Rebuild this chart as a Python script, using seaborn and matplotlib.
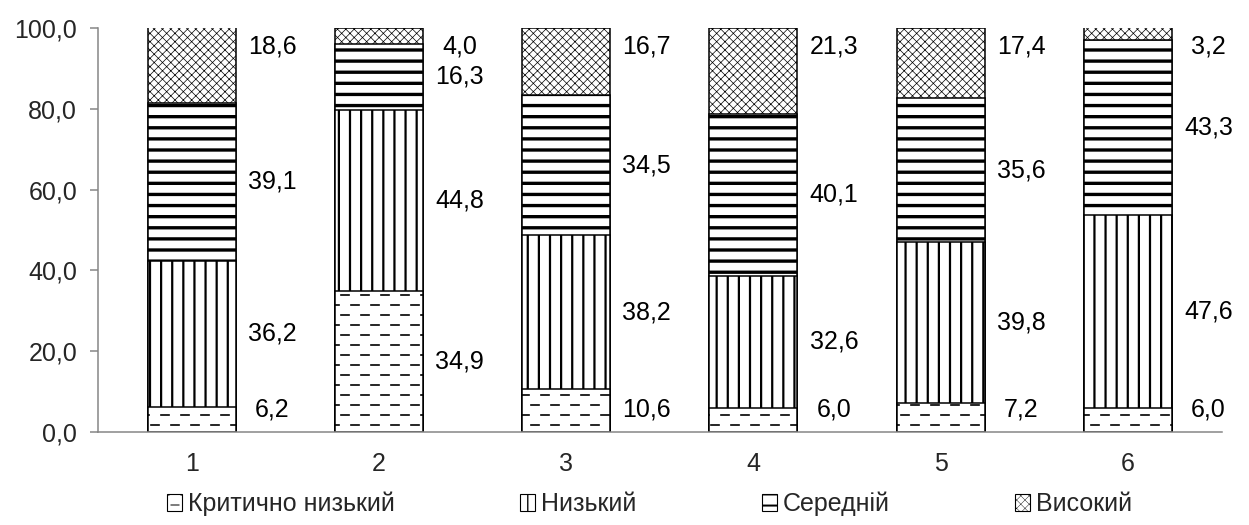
import numpy as np
import pandas as pd
import matplotlib
matplotlib.use('Agg')
import matplotlib.pyplot as plt
import matplotlib.hatch as mhatch
from matplotlib.path import Path
from matplotlib.patches import Patch
from matplotlib.ticker import FuncFormatter
import seaborn as sns
import warnings

warnings.filterwarnings('ignore')

# --- дані ---
groups = ['1', '2', '3', '4', '5', '6']
critical = [6.2, 34.9, 10.6, 6.0, 7.2, 6.0]
low = [36.2, 44.8, 38.2, 32.6, 39.8, 47.6]
medium = [39.1, 16.3, 34.5, 40.1, 35.6, 43.3]
high = [18.6, 4.0, 16.7, 21.3, 17.4, 3.2]
series_names = ['Критично низький', 'Низький', 'Середній', 'Високий']


class StripeHatch(mhatch.HatchPatternBase):
    """'=' -> 9 horizontal stripes per inch, '!' -> 9 vertical stripes per inch"""
    def __init__(self, hatch, density):
        self.n_h = hatch.count('=') * 9
        self.n_v = hatch.count('!') * 9
        self.num_vertices = 2 * (self.n_h + self.n_v)

    def set_vertices_and_codes(self, vertices, codes):
        segs = []
        for i in range(self.n_h):
            y = (i + 0.5) / self.n_h
            segs.append([(0, y), (1, y)])
        for i in range(self.n_v):
            x = (i + 0.5) / self.n_v
            segs.append([(x, 0), (x, 1)])
        vertices[:] = np.array(segs, dtype=float).reshape(-1, 2)
        codes[0::2] = Path.MOVETO
        codes[1::2] = Path.LINETO


class DashHatch(mhatch.HatchPatternBase):
    """'_' -> staggered rows of short dashes"""
    def __init__(self, hatch, density):
        self.rows = hatch.count('_') * 10
        self.cols = hatch.count('_') * 5
        self.num_vertices = 2 * self.rows * self.cols

    def set_vertices_and_codes(self, vertices, codes):
        segs = []
        for r in range(self.rows):
            y = (r + 0.5) / self.rows
            shift = 0.5 if r % 2 else 0.0
            for c in range(self.cols):
                segs.append([((c + shift + 0.05) / self.cols, y),
                             ((c + shift + 0.45) / self.cols, y)])
        vertices[:] = np.array(segs, dtype=float).reshape(-1, 2)
        codes[0::2] = Path.MOVETO
        codes[1::2] = Path.LINETO


mhatch._hatch_types.extend([StripeHatch, DashHatch])

sns.set_style('white')
plt.rcParams['font.family'] = ['Liberation Sans', 'DejaVu Sans']

df = pd.DataFrame({'group': groups, 'critical': critical, 'low': low,
                   'medium': medium, 'high': high})
cols = ['critical', 'low', 'medium', 'high']
stack = df[cols].cumsum(axis=1)
stack['group'] = df['group']

hatches = ['_', '!', '=', 'xxxx']
hatch_lws = [1.2, 1.6, 2.4, 0.5]

fig, ax = plt.subplots(figsize=(12.49, 5.25), dpi=100)
fig.subplots_adjust(left=0.0785, right=0.978, bottom=0.177, top=0.947)

# накладання кумулятивних стовпців від верхнього до нижнього
for col, h, hlw in reversed(list(zip(cols, hatches, hatch_lws))):
    n_before = len(ax.patches)
    sns.barplot(data=stack, x='group', y=col, color='white', saturation=1,
                edgecolor='black', linewidth=1.1, width=0.47, hatch=h, ax=ax)
    for p in ax.patches[n_before:]:
        p.set_hatch_linewidth(hlw)

# підписи значень
for j, col in enumerate(cols):
    vals = df[col].values
    bottoms = stack[col].values - vals
    for i, v in enumerate(vals):
        y = bottoms[i] + v / 2
        if j == 0:
            y = max(y, 5.5)
        if j == len(cols) - 1:
            y = 95.5
        ax.text(i + 0.43, y, f'{v:.1f}'.replace('.', ','), ha='center',
                va='center', fontsize=18, color='black')

ax.set_ylim(0, 100)
ax.set_xlim(-0.5, 5.5)
ax.set_yticks(np.arange(0, 101, 20))
ax.yaxis.set_major_formatter(FuncFormatter(lambda v, _: f'{v:.1f}'.replace('.', ',')))
ax.set_xlabel('')
ax.set_ylabel('')
sns.despine(ax=ax)
for s in ['left', 'bottom']:
    ax.spines[s].set_color('#868686')
    ax.spines[s].set_linewidth(1.1)
ax.tick_params(axis='y', left=True, length=6, width=1.1, color='#868686',
               labelsize=18, pad=9)
ax.tick_params(axis='x', length=0, labelsize=18, pad=14)

handles = [Patch(facecolor='white', edgecolor='black', linewidth=0.8, hatch=h)
           for h in hatches]
leg = fig.legend(handles, series_names, loc='center', bbox_to_anchor=(0.52, 0.04),
                 ncol=4, frameon=False, handlelength=0.6, handleheight=0.7,
                 handletextpad=0.25, columnspacing=5.0,
                 prop={'family': ['Liberation Sans Narrow', 'Liberation Sans'], 'size': 18})
for p, hlw in zip(leg.get_patches(), hatch_lws):
    p.set_hatch_linewidth(hlw * 0.6)

plt.savefig('out.png', dpi=100)
